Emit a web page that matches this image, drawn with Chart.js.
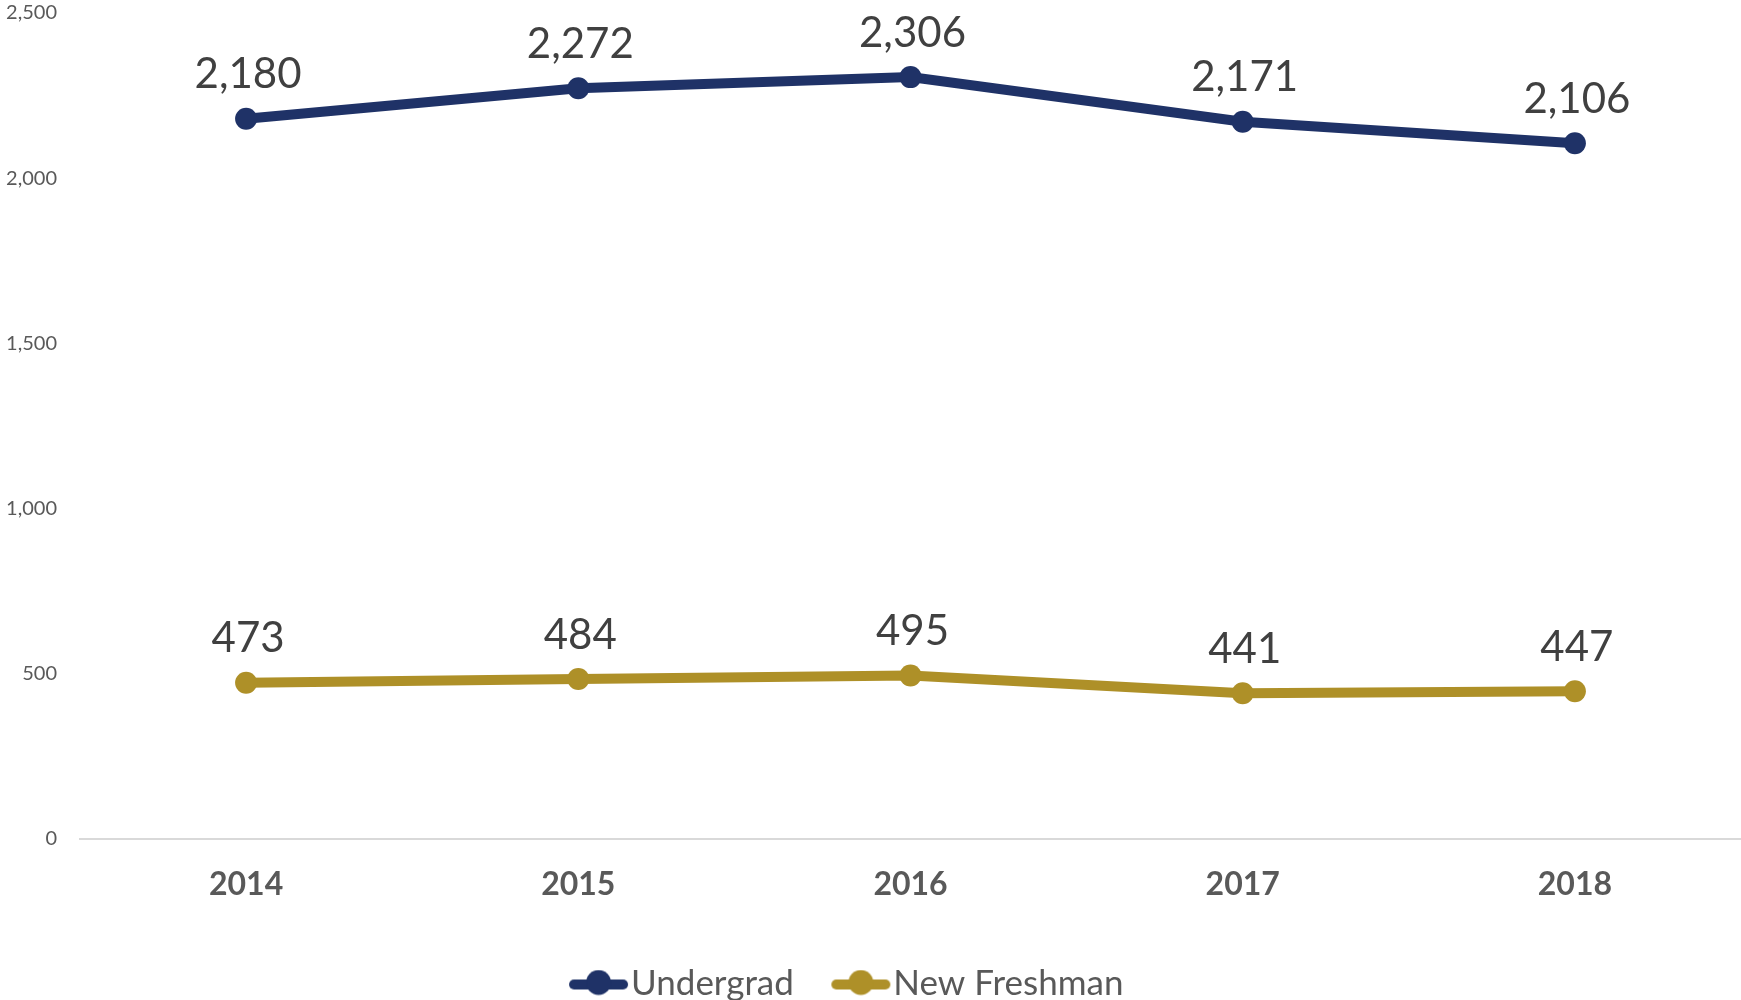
<!DOCTYPE html>
<html>
<head>
<meta charset="utf-8">
<script src="https://cdn.jsdelivr.net/npm/chart.js@4.4.1/dist/chart.umd.min.js"></script>
<style>
  html, body { margin: 0; padding: 0; background: #fff; }
  #wrap { width: 1741px; height: 1000px; position: relative; }
</style>
</head>
<body>
<div id="wrap"><canvas id="enrollChart"></canvas></div>
<script>
const years = ['2014', '2015', '2016', '2017', '2018'];
const undergrad = [2180, 2272, 2306, 2171, 2106];
const freshman = [473, 484, 495, 441, 447];
const yTicks = [0, 500, 1000, 1500, 2000, 2500];

const navy = '#1f3267';
const gold = '#ae9028';
const fontFamily = 'Lato, "Open Sans", sans-serif';

// legend marker: thick line with a dot in the middle
function legendMarker(color) {
    const c = document.createElement('canvas');
    c.width = 61;
    c.height = 28;
    const g = c.getContext('2d');
    g.strokeStyle = color;
    g.lineWidth = 10;
    g.lineCap = 'round';
    g.beginPath();
    g.moveTo(6, 15);
    g.lineTo(55, 15);
    g.stroke();
    g.fillStyle = color;
    g.beginPath();
    g.arc(30.5, 13, 12.5, 0, Math.PI * 2);
    g.fill();
    return c;
}

// value labels above each point
const valueLabels = {
    id: 'valueLabels',
    afterDatasetsDraw(chart) {
        const ctx = chart.ctx;
        ctx.save();
        ctx.font = '42px ' + fontFamily;
        ctx.fillStyle = '#404040';
        ctx.textAlign = 'center';
        ctx.textBaseline = 'middle';
        chart.data.datasets.forEach((ds, i) => {
            const meta = chart.getDatasetMeta(i);
            meta.data.forEach((pt, j) => {
                ctx.fillText(ds.data[j].toLocaleString('en-US'), pt.x + 2, pt.y - 44);
            });
        });
        ctx.restore();
    }
};

// legend sits a bit left of centre in the original
const legendShift = {
    id: 'legendShift',
    afterLayout(chart) {
        chart.legend.left -= 17;
        chart.legend.right -= 17;
    }
};

const ctx = document.getElementById('enrollChart').getContext('2d');

new Chart(ctx, {
    type: 'line',
    data: {
        labels: years,
        datasets: [
            {
                label: 'Undergrad',
                data: undergrad,
                borderColor: navy,
                backgroundColor: navy,
                borderWidth: 10,
                pointRadius: 11,
                pointBorderWidth: 0,
                pointBackgroundColor: navy,
                tension: 0
            },
            {
                label: 'New Freshman',
                data: freshman,
                borderColor: gold,
                backgroundColor: gold,
                borderWidth: 10,
                pointRadius: 11,
                pointBorderWidth: 0,
                pointBackgroundColor: gold,
                tension: 0
            }
        ]
    },
    options: {
        responsive: true,
        maintainAspectRatio: false,
        animation: false,
        layout: {
            autoPadding: false,
            padding: { top: 13, right: 0, bottom: -11, left: 0 }
        },
        scales: {
            x: {
                offset: true,
                grid: { display: false, drawTicks: false },
                border: { display: true, color: '#d9d9d9', width: 2 },
                ticks: {
                    color: '#595959',
                    padding: 26,
                    font: { family: fontFamily, size: 32, weight: 'bold' }
                },
                afterFit(scale) {
                    scale.height = 75;
                    scale.paddingLeft = 0;
                    scale.paddingRight = 0;
                }
            },
            y: {
                min: 0,
                max: 2500,
                grid: { display: false, drawTicks: false },
                border: { display: false },
                afterBuildTicks(scale) {
                    scale.ticks = yTicks.map(v => ({ value: v }));
                },
                ticks: {
                    color: '#595959',
                    padding: 23,
                    font: { family: fontFamily, size: 20 },
                    callback: v => v.toLocaleString('en-US')
                },
                afterFit(scale) {
                    scale.width = 80;
                    scale.paddingTop = 0;
                    scale.paddingBottom = 0;
                }
            }
        },
        plugins: {
            legend: {
                position: 'bottom',
                labels: {
                    usePointStyle: true,
                    pointStyleWidth: 30,
                    padding: 52,
                    color: '#595959',
                    font: { family: fontFamily, size: 35 },
                    generateLabels(chart) {
                        return chart.data.datasets.map((ds, i) => ({
                            text: ds.label,
                            fillStyle: ds.borderColor,
                            strokeStyle: ds.borderColor,
                            fontColor: '#595959',
                            lineWidth: 0,
                            pointStyle: legendMarker(ds.borderColor),
                            hidden: false,
                            datasetIndex: i
                        }));
                    }
                }
            },
            tooltip: { enabled: false }
        }
    },
    plugins: [valueLabels, legendShift]
});
</script>
</body>
</html>
